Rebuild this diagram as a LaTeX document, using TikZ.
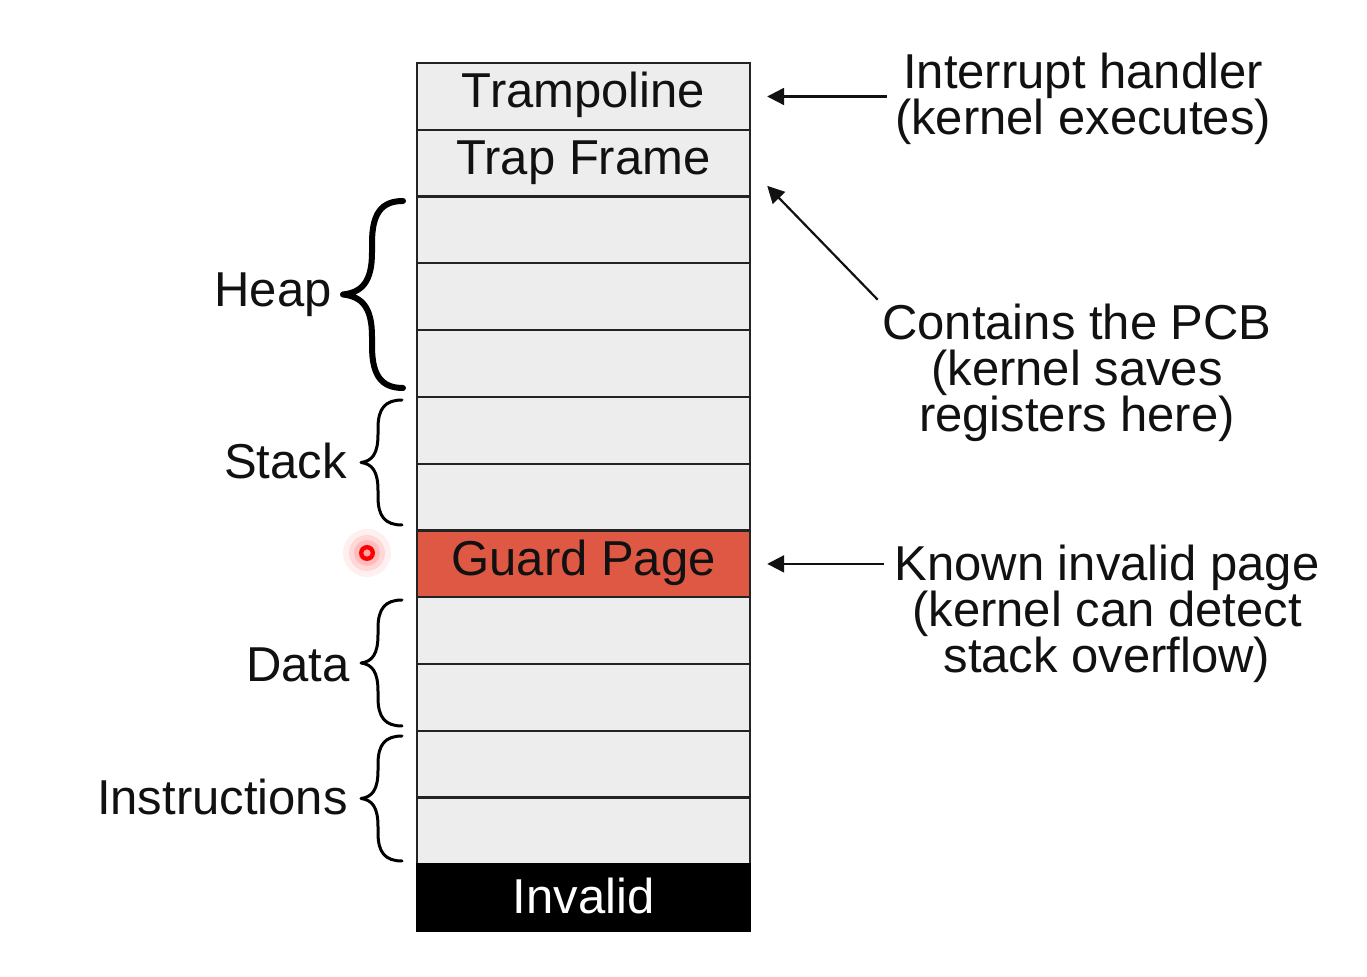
\documentclass[tikz,border=0pt]{standalone}
\usepackage{fontspec}
\setmainfont{Liberation Sans}
\usetikzlibrary{arrows.meta}
\definecolor{rowgrey}{RGB}{237,237,237}
\definecolor{rowline}{RGB}{35,35,35}
\definecolor{guardred}{RGB}{222,88,68}
\definecolor{ink}{RGB}{17,17,17}
\newcommand\cbrace[6]{%
 \pgfmathsetmacro\ym{(#3+#4)/2}%
 \pgfmathsetmacro\q{(\ym-#3)*0.45}%
 \draw[#1] (#2,#3) .. controls ({#5+(#2-#5)*0.3},#3) and (#5,{#3+\q*0.3}) .. (#5,{#3+\q})
   -- (#5,{\ym-\q}) .. controls (#5,{\ym-\q*0.3}) and ({#5-(#5-#6)*0.35},{\ym-\q*0.05}) .. (#6,\ym)
   .. controls ({#5-(#5-#6)*0.35},{\ym+\q*0.05}) and (#5,{\ym+\q*0.3}) .. (#5,{\ym+\q})
   -- (#5,{#4-\q}) .. controls (#5,{#4-\q*0.3}) and ({#5+(#2-#5)*0.3},#4) .. (#2,#4);}
\tikzset{
  memrow/.style={draw=rowline, line width=1.1pt, fill=rowgrey, minimum width=166.5pt,
    minimum height=33.4pt, anchor=north west, inner sep=0pt, text=ink,
    text height=17.5pt, text depth=6pt},
  guardrow/.style={memrow, fill=guardred},
  invrow/.style={memrow, fill=black, draw=black, text=white, text height=17.5pt, text depth=1.5pt},
  biglabel/.style={font=\fontsize{24.5pt}{23pt}\selectfont, text=ink, inner sep=0pt},
  sidelabel/.style={biglabel, anchor=base east},
  note/.style={biglabel, anchor=north, align=center},
  arr/.style={line width=1.1pt, draw=ink, -{Triangle[length=8.5pt,width=8.5pt]}},
  bracethick/.style={line width=3pt, line cap=round, line join=round, draw=black},
  bracethin/.style={line width=1.5pt, line cap=round, line join=round, draw=black},
}
\begin{document}
\begin{tikzpicture}[x=0.5pt, y=-0.5pt, font=\fontsize{24.5pt}{23pt}\selectfont]
\useasboundingbox[fill=white] (0,0) rectangle (1367,977);
% memory rows
\node[memrow] (tramp) at (416,62.0) {Trampoline};
\node[memrow] (trap)  at (416,128.8) {Trap Frame};
\node[memrow] (h1)    at (416,195.5) {};
\node[memrow] (h2)    at (416,262.3) {};
\node[memrow] (h3)    at (416,329.1) {};
\node[memrow] (s1)    at (416,395.9) {};
\node[memrow] (s2)    at (416,462.6) {};
\node[guardrow] (guard) at (416,529.4) {Guard Page};
\node[memrow] (d1)    at (416,596.2) {};
\node[memrow] (d2)    at (416,662.9) {};
\node[memrow] (i1)    at (416,729.7) {};
\node[memrow] (i2)    at (416,796.5) {};
\node[invrow] (inv)   at (416,863.2) {Invalid};
% left labels
\node[sidelabel] (heap)  at (332,307) {Heap};
\node[sidelabel] (stack) at (347,479) {Stack};
\node[sidelabel] (data)  at (350,682) {Data};
\node[sidelabel] (instr) at (348,815) {Instructions};
% braces
\cbrace{bracethick}{403}{201}{388}{372}{343}
\cbrace{bracethin}{402}{400}{525}{378}{361}
\cbrace{bracethin}{402}{600}{726}{378}{361}
\cbrace{bracethin}{402}{736}{861}{378}{361}
% right notes
\node[note] (ih)  at (1083,53)  {Interrupt handler\\(kernel executes)};
\node[note] (pcb) at (1077,304) {Contains the PCB\\(kernel saves\\registers here)};
\node[note] (kn)  at (1107,545) {Known invalid page\\(kernel can detect\\stack overflow)};
% arrows
\draw[arr, shorten <=4pt] (ih.west |- tramp.east) -- ([xshift=8pt]tramp.east);
\draw[arr, shorten <=3pt] (pcb.north west) -- ([xshift=8pt,yshift=6pt]trap.south east);
\draw[arr, shorten <=5pt] (kn.west |- guard.east) -- ([xshift=8pt]guard.east);
% laser pointer dot
\coordinate (dot) at (367,553);
\fill[red, opacity=0.06] (dot) circle (12pt);
\fill[red, opacity=0.10] (dot) circle (9pt);
\fill[red, opacity=0.12] (dot) circle (6.5pt);
\fill[red] (dot) circle (4pt);
\fill[red!35!white] (dot) circle (1.8pt);
\end{tikzpicture}
\end{document}
